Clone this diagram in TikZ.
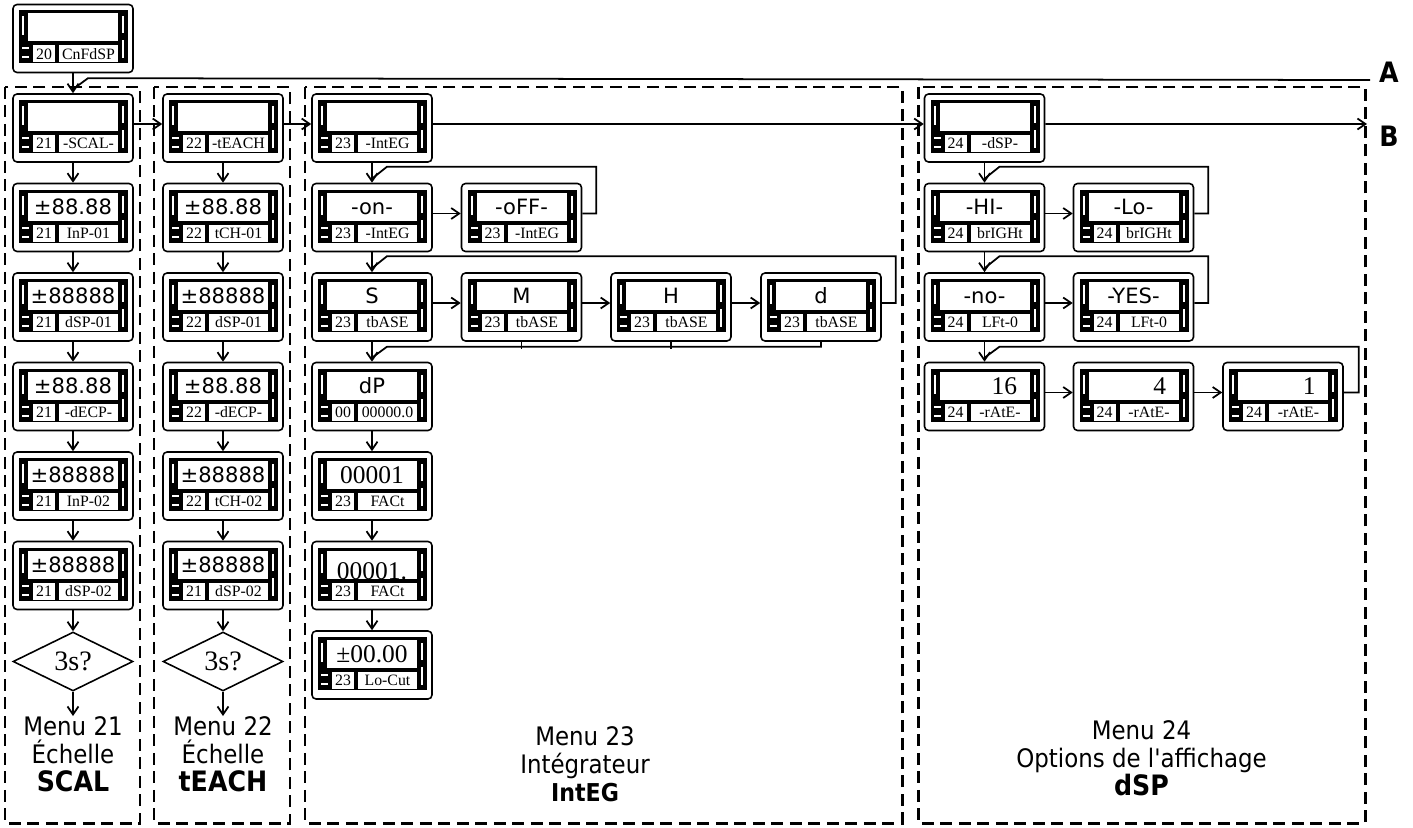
\documentclass[tikz,border=0pt]{standalone}
\usepackage{fontspec}
\setmainfont{DejaVu Sans}
\newfontfamily\menufont[FakeStretch=0.9]{DejaVu Sans}
\newfontfamily\lcdsans{DejaVu Sans}
\newfontfamily\lcdserif{Liberation Serif}
\usetikzlibrary{shapes.geometric, arrows.meta, positioning}
\tikzset{
  lcdbox/.style={rectangle, draw, fill=white, rounded corners=0.08cm,
                 line width=0.9pt, minimum width=2.4cm, minimum height=1.36cm,
                 inner sep=0pt},
  lcdtxt/.style={font=\lcdsans\fontsize{12}{12}\selectfont, anchor=base,
                 inner sep=0pt},
  lcdser/.style={font=\lcdserif\fontsize{14.5}{15}\selectfont, yshift=-0.02cm},
  lcdlow/.style={lcdser, yshift=-0.13cm},
  lcdrgt/.style={lcdser, anchor=base east, xshift=0.66cm},
  lcdsmall/.style={font=\lcdserif\fontsize{9}{9}\selectfont, inner sep=0pt},
  query/.style={diamond, draw, fill=white, line width=0.9pt,
                minimum width=2.4cm, minimum height=1.18cm, inner sep=0pt,
                font=\lcdserif\fontsize{16}{16}\selectfont},
  menulabel/.style={align=center, inner sep=0pt,
                    font=\menufont\fontsize{14.5}{16}\selectfont},
  groupbox/.style={draw, line width=1.7pt, dash pattern=on 0.24cm off 0.13cm},
  line/.style={line width=1pt},
  arrow/.style={line, -{Straight Barb[length=1.6mm, width=2.2mm]}},
}
% panel display: [text style]{name}{centre}{main text}{menu no.}{parameter}
\newcommand{\lcdpanel}[6][lcdtxt]{%
  \begin{scope}[shift={#3}]
    \node[lcdbox] (#2) at (0,0) {};
    \fill (-54,-28) rectangle (55,25);
    \fill[white] (-45,-25) rectangle (45,3);
    \fill[white] (-51,-22) rectangle (-49,-3);
    \fill[white] (-51,9) rectangle (-44,11);
    \fill[white] (-51,18) rectangle (-44,20);
    \fill[white] (49,-22) rectangle (51,-5);
    \fill[white] (49,2) rectangle (51,20);
    \fill[white] (-40,7) rectangle (-18,24);
    \fill[white] (-14,7) rectangle (45,24);
    \begin{scope}
      \clip (-45,-25) rectangle (45,3);
      \node[lcdtxt, #1] at (0,-3.5) {#4};
    \end{scope}
    \node[lcdsmall] at (-29,15.5) {#5};
    \node[lcdsmall] at (15.5,15.5) {#6};
  \end{scope}}

\begin{document}
\begin{tikzpicture}[x=0.02cm, y=-0.02cm]
  \useasboundingbox (0,0) rectangle (1413,828);

  % Menu frames
  \draw[groupbox] (5,87) rectangle (140,823);
  \draw[groupbox] (154,87) rectangle (290,823);
  \draw[groupbox] (305,87) rectangle (902,823);
  \draw[groupbox] (918,87) rectangle (1365,823);

  % Menu 20
  \lcdpanel{cnf}{(73,38.5)}{}{20}{CnFdSP}

  % Menu 21
  \lcdpanel{scal}{(73,128)}{}{21}{-SCAL-}
  \lcdpanel{inp1}{(73,217.5)}{±88.88}{21}{InP-01}
  \lcdpanel{dsp1}{(73,307)}{±88888}{21}{dSP-01}
  \lcdpanel{decp1}{(73,396.5)}{±88.88}{21}{-dECP-}
  \lcdpanel{inp2}{(73,486)}{±88888}{21}{InP-02}
  \lcdpanel{dsp2}{(73,575.5)}{±88888}{21}{dSP-02}
  \node[query] (ask21) at (73,661.5) {3s?};
  \node[menulabel, anchor=north] (menu21) at (73,716)
    {Menu 21\\Échelle\\{\fontsize{16}{16}\selectfont\bfseries SCAL}};

  % Menu 22
  \lcdpanel{teach}{(223,128)}{}{22}{-tEACH}
  \lcdpanel{tch1}{(223,217.5)}{±88.88}{22}{tCH-01}
  \lcdpanel{tdsp1}{(223,307)}{±88888}{22}{dSP-01}
  \lcdpanel{decp2}{(223,396.5)}{±88.88}{22}{-dECP-}
  \lcdpanel{tch2}{(223,486)}{±88888}{22}{tCH-02}
  \lcdpanel{tdsp2}{(223,575.5)}{±88888}{21}{dSP-02}
  \node[query] (ask22) at (223,661.5) {3s?};
  \node[menulabel, anchor=north] (menu22) at (223,716)
    {Menu 22\\Échelle\\{\fontsize{16}{16}\selectfont\bfseries tEACH}};

  % Menu 23
  \lcdpanel{integ}{(372,128)}{}{23}{-IntEG}
  \lcdpanel{on}{(372,217.5)}{-on-}{23}{-IntEG}
  \lcdpanel{off}{(521.5,217.5)}{-oFF-}{23}{-IntEG}
  \lcdpanel{ts}{(372,307)}{S}{23}{tbASE}
  \lcdpanel{tm}{(521.5,307)}{M}{23}{tbASE}
  \lcdpanel{th}{(671,307)}{H}{23}{tbASE}
  \lcdpanel{td}{(821,307)}{d}{23}{tbASE}
  \lcdpanel{dp}{(372,396.5)}{dP}{00}{00000.0}
  \lcdpanel[lcdser]{fact1}{(372,486)}{00001}{23}{FACt}
  \lcdpanel[lcdlow]{fact2}{(372,575.5)}{00001.}{23}{FACt}
  \lcdpanel[lcdser]{locut}{(372,665)}{±00.00}{23}{Lo-Cut}
  \node[menulabel, anchor=north] (menu23) at (585,726)
    {Menu 23\\Intégrateur\\{\fontsize{14}{14}\selectfont\bfseries IntEG}};

  % Menu 24
  \lcdpanel{dsp}{(984.5,128)}{}{24}{-dSP-}
  \lcdpanel{hi}{(984.5,217.5)}{-HI-}{24}{brIGHt}
  \lcdpanel{lo}{(1133.5,217.5)}{-Lo-}{24}{brIGHt}
  \lcdpanel{no}{(984.5,307)}{-no-}{24}{LFt-0}
  \lcdpanel{yes}{(1133.5,307)}{-YES-}{24}{LFt-0}
  \lcdpanel[lcdrgt]{r16}{(984.5,396.5)}{16}{24}{-rAtE-}
  \lcdpanel[lcdrgt]{r4}{(1133.5,396.5)}{4}{24}{-rAtE-}
  \lcdpanel[lcdrgt]{r1}{(1283,396.5)}{1}{24}{-rAtE-}
  \node[menulabel, anchor=north] (menu24) at (1141.5,720)
    {Menu 24\\Options de l'affichage\\{\fontsize{16}{16}\selectfont\bfseries dSP}};

  % A and B
  \node[font=\menufont\fontsize{16}{16}\selectfont\bfseries] (lblA) at (1389,72.5) {A};
  \node[font=\menufont\fontsize{16}{16}\selectfont\bfseries] (lblB) at (1389,136.5) {B};
  \coordinate (ain) at (1370,80);
  \coordinate (bout) at (1367,124);

  % Arrows down
  \draw[arrow] (cnf) -- (scal);
  \draw[arrow] (scal) -- (inp1);
  \draw[arrow] (inp1) -- (dsp1);
  \draw[arrow] (dsp1) -- (decp1);
  \draw[arrow] (decp1) -- (inp2);
  \draw[arrow] (inp2) -- (dsp2);
  \draw[arrow] (dsp2) -- (ask21);
  \draw[arrow] (ask21) -- (menu21);
  \draw[arrow] (teach) -- (tch1);
  \draw[arrow] (tch1) -- (tdsp1);
  \draw[arrow] (tdsp1) -- (decp2);
  \draw[arrow] (decp2) -- (tch2);
  \draw[arrow] (tch2) -- (tdsp2);
  \draw[arrow] (tdsp2) -- (ask22);
  \draw[arrow] (ask22) -- (menu22);
  \draw[arrow] (integ) -- (on);
  \draw[arrow] (on) -- (ts);
  \draw[arrow] (ts) -- (dp);
  \draw[arrow] (dp) -- (fact1);
  \draw[arrow] (fact1) -- (fact2);
  \draw[arrow] (fact2) -- (locut);
  \draw[arrow] (dsp) -- (hi);
  \draw[arrow] (hi) -- (no);
  \draw[arrow] (no) -- (r16);

  % Arrows across
  \draw[arrow] ([yshift=.08cm]scal.east) -- ([yshift=.08cm]teach.west);
  \draw[arrow] ([yshift=.08cm]teach.east) -- ([yshift=.08cm]integ.west);
  \draw[arrow] ([yshift=.08cm]integ.east) -- ([yshift=.08cm]dsp.west);
  \draw[arrow] ([yshift=.08cm]dsp.east) -- (bout);
  \draw[arrow] ([yshift=.08cm]on.east) -- ([yshift=.08cm]off.west);
  \draw[arrow] ([yshift=.08cm]ts.east) -- ([yshift=.08cm]tm.west);
  \draw[arrow] ([yshift=.08cm]tm.east) -- ([yshift=.08cm]th.west);
  \draw[arrow] ([yshift=.08cm]th.east) -- ([yshift=.08cm]td.west);
  \draw[arrow] ([yshift=.08cm]hi.east) -- ([yshift=.08cm]lo.west);
  \draw[arrow] ([yshift=.08cm]no.east) -- ([yshift=.08cm]yes.west);
  \draw[arrow] ([yshift=.08cm]r16.east) -- ([yshift=.08cm]r4.west);
  \draw[arrow] ([yshift=.08cm]r4.east) -- ([yshift=.08cm]r1.west);

  % Loops back
  \draw[line] (ain) -- ([xshift=.3cm,yshift=.3cm]scal.north)
    -- ([yshift=.08cm]scal.north);
  \draw[line] ([yshift=.08cm]off.east) -- ++(14,0)
    |- ([xshift=.3cm,yshift=.32cm]on.north) -- ([yshift=.08cm]on.north);
  \draw[line] ([yshift=.08cm]td.east) -- ++(14,0)
    |- ([xshift=.3cm,yshift=.32cm]ts.north) -- ([yshift=.08cm]ts.north);
  \draw[line] (td.south) |- ([xshift=.3cm,yshift=.3cm]dp.north)
    -- ([yshift=.08cm]dp.north);
  \draw[line] (tm.south) -- ++(0,7);
  \draw[line] (th.south) -- ++(0,7);
  \draw[line] ([yshift=.08cm]lo.east) -- ++(14,0)
    |- ([xshift=.3cm,yshift=.32cm]hi.north) -- ([yshift=.08cm]hi.north);
  \draw[line] ([yshift=.08cm]yes.east) -- ++(14,0)
    |- ([xshift=.3cm,yshift=.32cm]no.north) -- ([yshift=.08cm]no.north);
  \draw[line] ([yshift=.08cm]r1.east) -- ++(15,0)
    |- ([xshift=.3cm,yshift=.3cm]r16.north) -- ([yshift=.08cm]r16.north);
\end{tikzpicture}
\end{document}
